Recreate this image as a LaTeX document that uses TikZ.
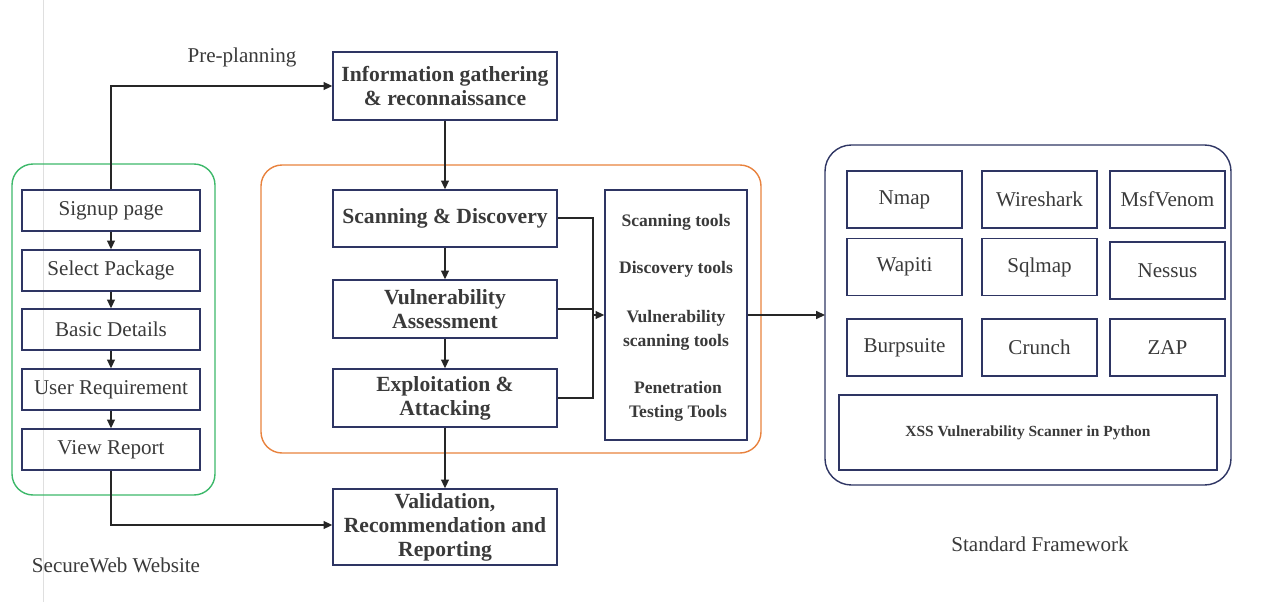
\documentclass[tikz,border=0pt]{standalone}
\usepackage{fontspec}
\setmainfont{Liberation Serif}
\usepackage{tikz}
\usetikzlibrary{arrows.meta}
\definecolor{boxline}{HTML}{2E3563}
\definecolor{txt}{HTML}{3A3A3A}
\definecolor{grn}{HTML}{3DB86A}
\definecolor{orng}{HTML}{E8823E}

\begin{document}
\begin{tikzpicture}[x=0.02cm,y=-0.02cm,
    box/.style={draw=boxline,thick,inner sep=0pt,align=center,text=txt,font=\fontsize{12}{13.6}\selectfont},
    bbox/.style={box,font=\fontsize{12.3}{13.6}\selectfont\bfseries},
    tbox/.style={box,minimum width=2.3cm,minimum height=1.14cm},
    arr/.style={-{Triangle[length=5pt,width=4.5pt]},thick,black!85},
    ln/.style={thick,black!85}]
      \useasboundingbox (0,0) rectangle (1275,602);
      \draw[gray!25] (43,0)--(43,602);

      % containers
      \draw[grn,thick,rounded corners=12] (12,164) rectangle (215,495);
      \draw[orng,thick,rounded corners=12] (261,165) rectangle (761,453);
      \draw[boxline,thick,rounded corners=15] (825,145) rectangle (1231,485);

      % website flow
      \node[box,minimum width=3.56cm,minimum height=0.82cm] (sp) at (111,210.5) {Signup page};
      \node[box,minimum width=3.56cm,minimum height=0.82cm] (pk) at (111,270.5) {Select Package};
      \node[box,minimum width=3.56cm,minimum height=0.82cm] (bd) at (111,329.5) {Basic Details};
      \node[box,minimum width=3.56cm,minimum height=0.82cm] (ur) at (111,389.5) {User Requirement};
      \node[box,minimum width=3.56cm,minimum height=0.82cm] (vr) at (111,449.5) {View Report};
      \draw[arr](sp)--(pk);
      \draw[arr](pk)--(bd);
      \draw[arr](bd)--(ur);
      \draw[arr](ur)--(vr);

      % phases
      \node[bbox,minimum width=4.48cm,minimum height=1.36cm] (ig) at (445,86) {Information gathering\\\& reconnaissance};
      \node[bbox,minimum width=4.48cm,minimum height=1.14cm] (sd) at (445,218.5) {Scanning \& Discovery};
      \node[bbox,minimum width=4.48cm,minimum height=1.16cm] (va) at (445,309) {Vulnerability\\Assessment};
      \node[bbox,minimum width=4.48cm,minimum height=1.16cm] (ea) at (445,398) {Exploitation \&\\Attacking};
      \node[bbox,minimum width=4.48cm,minimum height=1.52cm] (vl) at (445,527) {Validation,\\Recommendation and\\Reporting};
      \draw[arr](ig)--(sd);
      \draw[arr](sd)--(va);
      \draw[arr](va)--(ea);
      \draw[arr](ea)--(vl);

      \coordinate (pp) at (111,86);
      \coordinate (rp) at (111,525);
      \draw[arr](sp.north)--(pp)--(ig.west);
      \draw[arr](vr.south)--(rp)--(rp-|vl.west);

      % tools
      \node[box,minimum width=2.84cm,minimum height=5cm] (tl) at (676,315) {};
      \node[font=\fontsize{10}{11}\selectfont\bfseries,text=txt] at (676,222) {Scanning tools};
      \node[font=\fontsize{10}{11}\selectfont\bfseries,text=txt] at (676,269) {Discovery tools};
      \node[font=\fontsize{10}{13.6}\selectfont\bfseries,text=txt,align=center] at (676,330) {Vulnerability\\scanning tools};
      \node[font=\fontsize{10}{13.6}\selectfont\bfseries,text=txt,align=center] at (678,401) {Penetration\\Testing Tools};

      \coordinate (j) at (593,315);
      \draw[ln](sd.east|-0,218)--(593,218)--(593,398)--(ea.east|-0,398);
      \draw[ln](va.east)--(593,309);
      \draw[arr](j)--(tl.west|-j);
      \draw[arr](tl.east|-j)--(825,315);

      % framework
      \node[tbox] (nm) at (904.5,199.5) {Nmap};
      \node[tbox] (ws) at (1039.5,199.5) {Wireshark};
      \node[tbox] (mv) at (1167.5,199.5) {MsfVenom};
      \node[tbox] (wp) at (904.5,267) {Wapiti};
      \node[tbox] (sq) at (1039.5,267) {Sqlmap};
      \node[tbox] (ns) at (1167.5,270.5) {Nessus};
      \node[tbox] (bs) at (904.5,347.5) {Burpsuite};
      \node[tbox] (cr) at (1039.5,347.5) {Crunch};
      \node[tbox] (zp) at (1167.5,347.5) {ZAP};
      \node[box,minimum width=7.56cm,minimum height=1.5cm,font=\fontsize{8.8}{10}\selectfont\bfseries] (xs) at (1028,432.5) {XSS Vulnerability Scanner in Python};

      % labels
      \node[text=txt,font=\fontsize{12}{13.6}\selectfont] (lp) at (242,57) {Pre-planning};
      \node[text=txt,font=\fontsize{12}{13.6}\selectfont] (lw) at (116,565) {SecureWeb Website};
      \node[text=txt,font=\fontsize{12}{13.6}\selectfont] (lf) at (1040,544) {Standard Framework};
\end{tikzpicture}
\end{document}
